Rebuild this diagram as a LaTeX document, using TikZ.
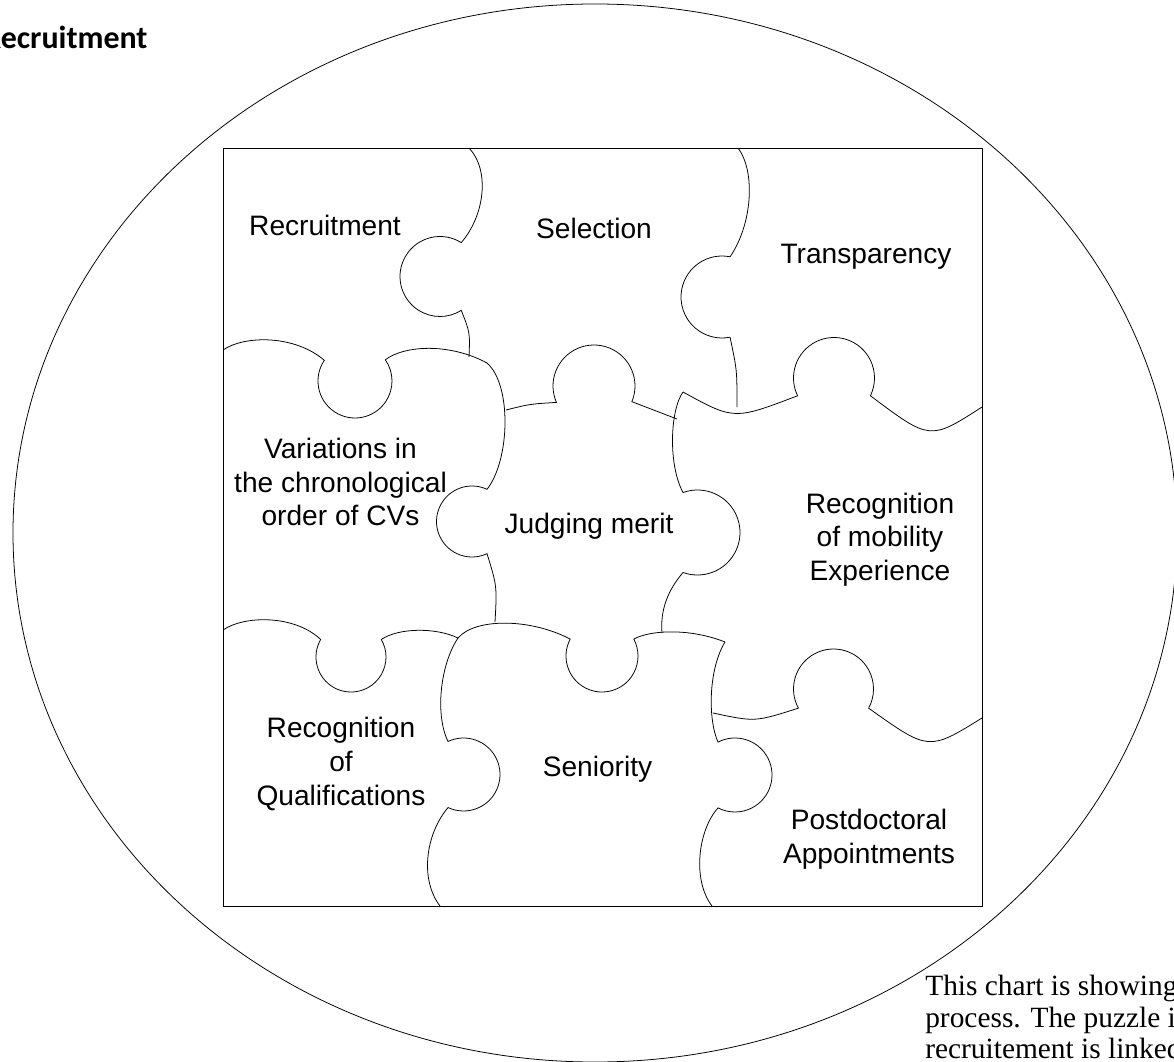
\documentclass[tikz,border=0pt]{standalone}
\usepackage{fontspec}
\setmainfont{Liberation Serif}
\newfontfamily\piecefont{Liberation Sans}
\newfontfamily\headfont{Carlito}
\usepackage{tikz}
\usetikzlibrary{calc}
\tikzstyle{piece} = [font=\piecefont\fontsize{20}{24}\selectfont, align=center, inner sep=0pt]
\tikzstyle{seam} = [line width=0.55pt, black]
\tikzstyle{frame} = [line width=0.7pt, black]
% knob of a puzzle piece: centre x, centre y, radius, start angle, end angle
\newcommand{\knob}[5]{($(#1,#2)+(#4:#3)$) arc[start angle=#4, end angle=#5, radius=#3]}

\begin{document}
\begin{tikzpicture}[x=0.025cm, y=-0.025cm]
    \useasboundingbox (0,0) rectangle (1174,1062);
    \fill[white] (0,0) rectangle (1174,1062);
    \clip (0,0) rectangle (1174,1062);
    \node (head)[anchor=base west, inner sep=0pt, font=\headfont\bfseries\fontsize{22.7}{27}\selectfont] at (-17,49){Recruitment};
    \draw[seam] (595,533) ellipse [x radius=582, y radius=529];
    \draw[frame] (223,148) rectangle (982,906);
    % seams between the pieces, row by row
    \draw[seam] (469,148) .. controls (490,170) and (485,215) .. \knob{440}{276.5}{40}{302.1}{57.9} .. controls (470,332.5) .. (469,357);
    \draw[seam] (738,148) .. controls (756,172) and (752,225) .. \knob{722}{297}{41}{281.3}{78.7} .. controls (737,370) .. (737,407);
    \draw[seam] (223,350) .. controls (245,335) and (295,335) .. \knob{355}{381}{37}{214}{-35} .. controls (405,345) and (450,343) .. (487,363);
    \draw[seam] (506,410) .. controls (530,404) .. \knob{594}{386}{41}{156.4}{382.5} .. controls (655,410) .. (677,419);
    \draw[seam] (683,392) .. controls (734,420) .. \knob{834}{378}{40.5}{154}{386} .. controls (930,440.5) .. (982,407);
    \draw[seam] (487,363) .. controls (512,385) and (510,460) .. \knob{472}{521.5}{35.5}{295}{65} .. controls (497,586) .. (495,622);
    \draw[seam] (683,392) .. controls (670,410) and (668,465) .. \knob{697.5}{532.5}{42.5}{250.1}{469.9} .. controls (668,590) and (660,610) .. (662,633);
    \draw[seam] (223,630) .. controls (245,615) and (295,615) .. \knob{351}{657}{35}{210}{-30} .. controls (398,628) and (435,627) .. (458,638);
    \draw[seam] (458,638) .. controls (475,618) and (530,618) .. \knob{602}{656}{36}{208}{-28} .. controls (650,630) and (690,628) .. (725,642);
    \draw[seam] (713,713) .. controls (755,722) .. \knob{833.5}{689}{40}{151.4}{388.6} .. controls (928.7,751) .. (982,718);
    \draw[seam] (458,638) .. controls (440,665) and (435,715) .. \knob{463.5}{774.5}{36.5}{244.9}{475.1} .. controls (425,835) and (420,880) .. (440,906);
    \draw[seam] (725,642) .. controls (708,670) and (708,720) .. \knob{735}{775}{37}{242.7}{477.3} .. controls (698,830) and (692,880) .. (712,906);
    % labels
    \node (recruit)[piece] at (325,225.5){Recruitment};
    \node (select)[piece] at (594,228.5){Selection};
    \node (transp)[piece] at (866,257){Transparency};
    \node (chrono)[piece] at (340.5,482){Variations in\\the chronological\\order of CVs};
    \node (merit)[piece] at (589,526){Judging merit};
    \node (mobility)[piece] at (880,539.5){Recognition\\of mobility\\Experience};
    \node (qualif)[piece] at (341,764){Recognition\\of\\Qualifications};
    \node (senior)[piece] at (597.5,769){Seniority};
    \node (postdoc)[piece] at (869,839.5){Postdoctoral\\Appointments};
    \node (note)[anchor=north west, inner sep=0pt, align=left, font=\fontsize{20.9}{22.3}\selectfont] at (925,975){This chart is showing\\process. The puzzle is\\recruitement is linked};
  \end{tikzpicture}
\end{document}
